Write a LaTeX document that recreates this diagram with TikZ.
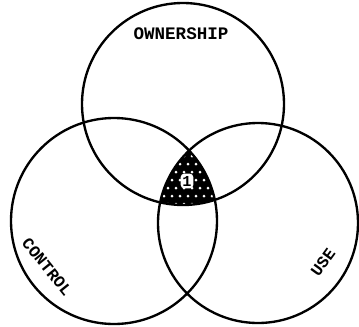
\documentclass[tikz,border=0pt]{standalone}
\usepackage{fontspec}
\setmonofont{Liberation Mono}
\usetikzlibrary{positioning}

\begin{document}
\begin{tikzpicture}[
    x=0.03cm, y=-0.03cm,
    ring/.style={circle, draw, line width=2pt, inner sep=0pt},
    tag/.style={font=\fontsize{15}{15}\selectfont\ttfamily\bfseries},
    sidetag/.style={font=\fontsize{14}{14}\selectfont\ttfamily\bfseries, transform shape},
]
    \useasboundingbox (0,0) rectangle (359,326);

    % shaded common part
    \begin{scope}
        \clip (183,104) circle[radius=3.03cm];
        \clip (114,221) circle[radius=3.09cm];
        \clip (258,223) circle[radius=3.0cm];
        \fill[black] (140,140) rectangle (230,215);
        \foreach \y [count=\i] in {156,164,...,204}
            \foreach \x in {140,148,...,230}
                \fill[white] ({\x+4*mod(\i,2)},\y) circle[radius=0.045cm];
    \end{scope}

    \node[ring, minimum size=6.06cm] (own) at (183,104) {};
    \node[ring, minimum size=6.18cm] (ctl) at (114,221) {};
    \node[ring, minimum size=6.0cm] (use) at (258,223) {};

    \node[tag] (ownlbl) at (181,34) {OWNERSHIP};
    \node[sidetag, rotate=-51] (ctllbl) at (47,267) {CONTROL};
    \node[sidetag, rotate=54] (uselbl) at (323,262) {USE};

    \node[fill=white, rounded corners=3pt, inner xsep=1.5pt, inner ysep=2pt,
          font=\fontsize{13}{13}\selectfont\ttfamily\bfseries] (one) at (187,181) {1};
\end{tikzpicture}
\end{document}
